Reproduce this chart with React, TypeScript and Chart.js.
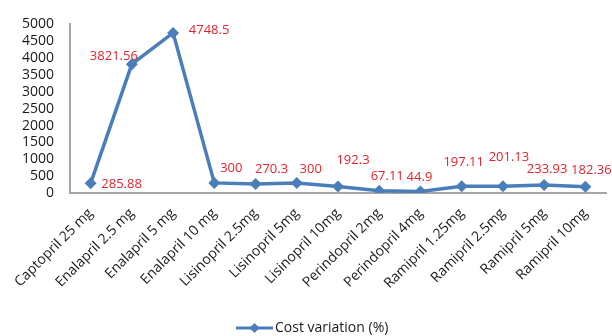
import React, { useEffect, useRef } from "react";
import { Chart, registerables } from "chart.js";

Chart.register(...registerables);

// Drug / strength categories along the x axis
const categories: string[] = [
  "Captopril 25 mg",
  "Enalapril 2.5 mg",
  "Enalapril 5 mg",
  "Enalapril 10 mg",
  "Lisinopril 2.5mg",
  "Lisinopril 5mg",
  "Lisinopril 10mg",
  "Perindopril 2mg",
  "Perindopril 4mg",
  "Ramipril 1.25mg",
  "Ramipril 2.5mg",
  "Ramipril 5mg",
  "Ramipril 10mg",
];

// Cost variation (%) per category
const costVariation: number[] = [
  285.88, 3821.56, 4748.5, 300, 270.3, 300, 192.3, 67.11, 44.9, 197.11, 201.13,
  233.93, 182.36,
];

const seriesName = "Cost variation (%)";

// Y axis range and step
const yMin = 0;
const yMax = 5000;
const yStep = 500;

// Where each value label sits relative to its point (label centre, px)
const labelOffsets: [number, number][] = [
  [31, 1],
  [-18, -8],
  [36, -3],
  [17, -15],
  [16, -15],
  [14, -14],
  [15, -26],
  [8, -14],
  [-1, -14],
  [2, -24],
  [6, -29],
  [3, -16],
  [6, -17],
];

const LINE_COLOR = "#4A7EBB";
const LABEL_COLOR = "#E0262E";
const AXIS_COLOR = "#A6A6A6";
const TEXT_COLOR = "#1A1A1A";
const FONT = "'Open Sans', 'DejaVu Sans', sans-serif";

const valueLabels = {
  id: "valueLabels",
  afterDatasetsDraw(chart: any) {
    const ctx = chart.ctx as CanvasRenderingContext2D;
    const meta = chart.getDatasetMeta(0);
    ctx.save();
    ctx.font = `13px ${FONT}`;
    ctx.fillStyle = LABEL_COLOR;
    ctx.textAlign = "center";
    ctx.textBaseline = "middle";
    meta.data.forEach((pt: any, i: number) => {
      const [dx, dy] = labelOffsets[i] || [0, -14];
      ctx.fillText(String(costVariation[i]), pt.x + dx, pt.y + dy);
    });
    ctx.restore();
  },
};

const bottomLegend = {
  id: "bottomLegend",
  afterDraw(chart: any) {
    const ctx = chart.ctx as CanvasRenderingContext2D;
    const y = 328;
    const x0 = 236;
    const x1 = 273;
    ctx.save();
    ctx.strokeStyle = LINE_COLOR;
    ctx.lineWidth = 3;
    ctx.beginPath();
    ctx.moveTo(x0, y);
    ctx.lineTo(x1, y);
    ctx.stroke();
    const cx = (x0 + x1) / 2;
    const r = 5;
    ctx.fillStyle = LINE_COLOR;
    ctx.beginPath();
    ctx.moveTo(cx, y - r);
    ctx.lineTo(cx + r, y);
    ctx.lineTo(cx, y + r);
    ctx.lineTo(cx - r, y);
    ctx.closePath();
    ctx.fill();
    ctx.font = `14px ${FONT}`;
    ctx.fillStyle = TEXT_COLOR;
    ctx.textAlign = "left";
    ctx.textBaseline = "middle";
    ctx.fillText(seriesName, x1 + 2, y);
    ctx.restore();
  },
};

export default function App() {
  const canvasRef = useRef<HTMLCanvasElement | null>(null);

  useEffect(() => {
    if (!canvasRef.current) return;
    const chart = new Chart(canvasRef.current, {
      type: "line",
      data: {
        labels: categories,
        datasets: [
          {
            label: seriesName,
            data: costVariation,
            borderColor: LINE_COLOR,
            backgroundColor: LINE_COLOR,
            borderWidth: 3.5,
            pointStyle: "rectRot",
            pointRadius: 6,
            pointBorderWidth: 0,
            pointBackgroundColor: LINE_COLOR,
            tension: 0,
            fill: false,
          },
        ],
      },
      options: {
        responsive: false,
        animation: false,
        layout: { padding: { top: 20, right: 6, left: 0, bottom: 0 } },
        plugins: {
          legend: { display: false },
          tooltip: { enabled: false },
        },
        scales: {
          x: {
            offset: true,
            grid: { display: false, drawTicks: false },
            border: { display: true, color: AXIS_COLOR, width: 2 },
            ticks: {
              color: TEXT_COLOR,
              font: { family: FONT, size: 14 },
              minRotation: 45,
              maxRotation: 45,
              autoSkip: false,
              padding: 12,
            },
            afterFit(scale: any) {
              scale.height = 143;
            },
          },
          y: {
            min: yMin,
            max: yMax,
            grid: { display: false, drawTicks: false },
            border: { display: true, color: AXIS_COLOR, width: 2 },
            ticks: {
              stepSize: yStep,
              autoSkip: false,
              color: TEXT_COLOR,
              font: { family: FONT, size: 14 },
              padding: 16,
              callback: (v: any) => String(v),
            },
            afterFit(scale: any) {
              scale.width = 70;
            },
          },
        },
      },
      plugins: [valueLabels, bottomLegend],
    });
    return () => chart.destroy();
  }, []);

  return (
    <div style={{ position: "absolute", left: 0, top: 0, width: 612, height: 336, background: "#fff" }}>
      <canvas ref={canvasRef} width={612} height={336} style={{ display: "block" }} />
    </div>
  );
}
